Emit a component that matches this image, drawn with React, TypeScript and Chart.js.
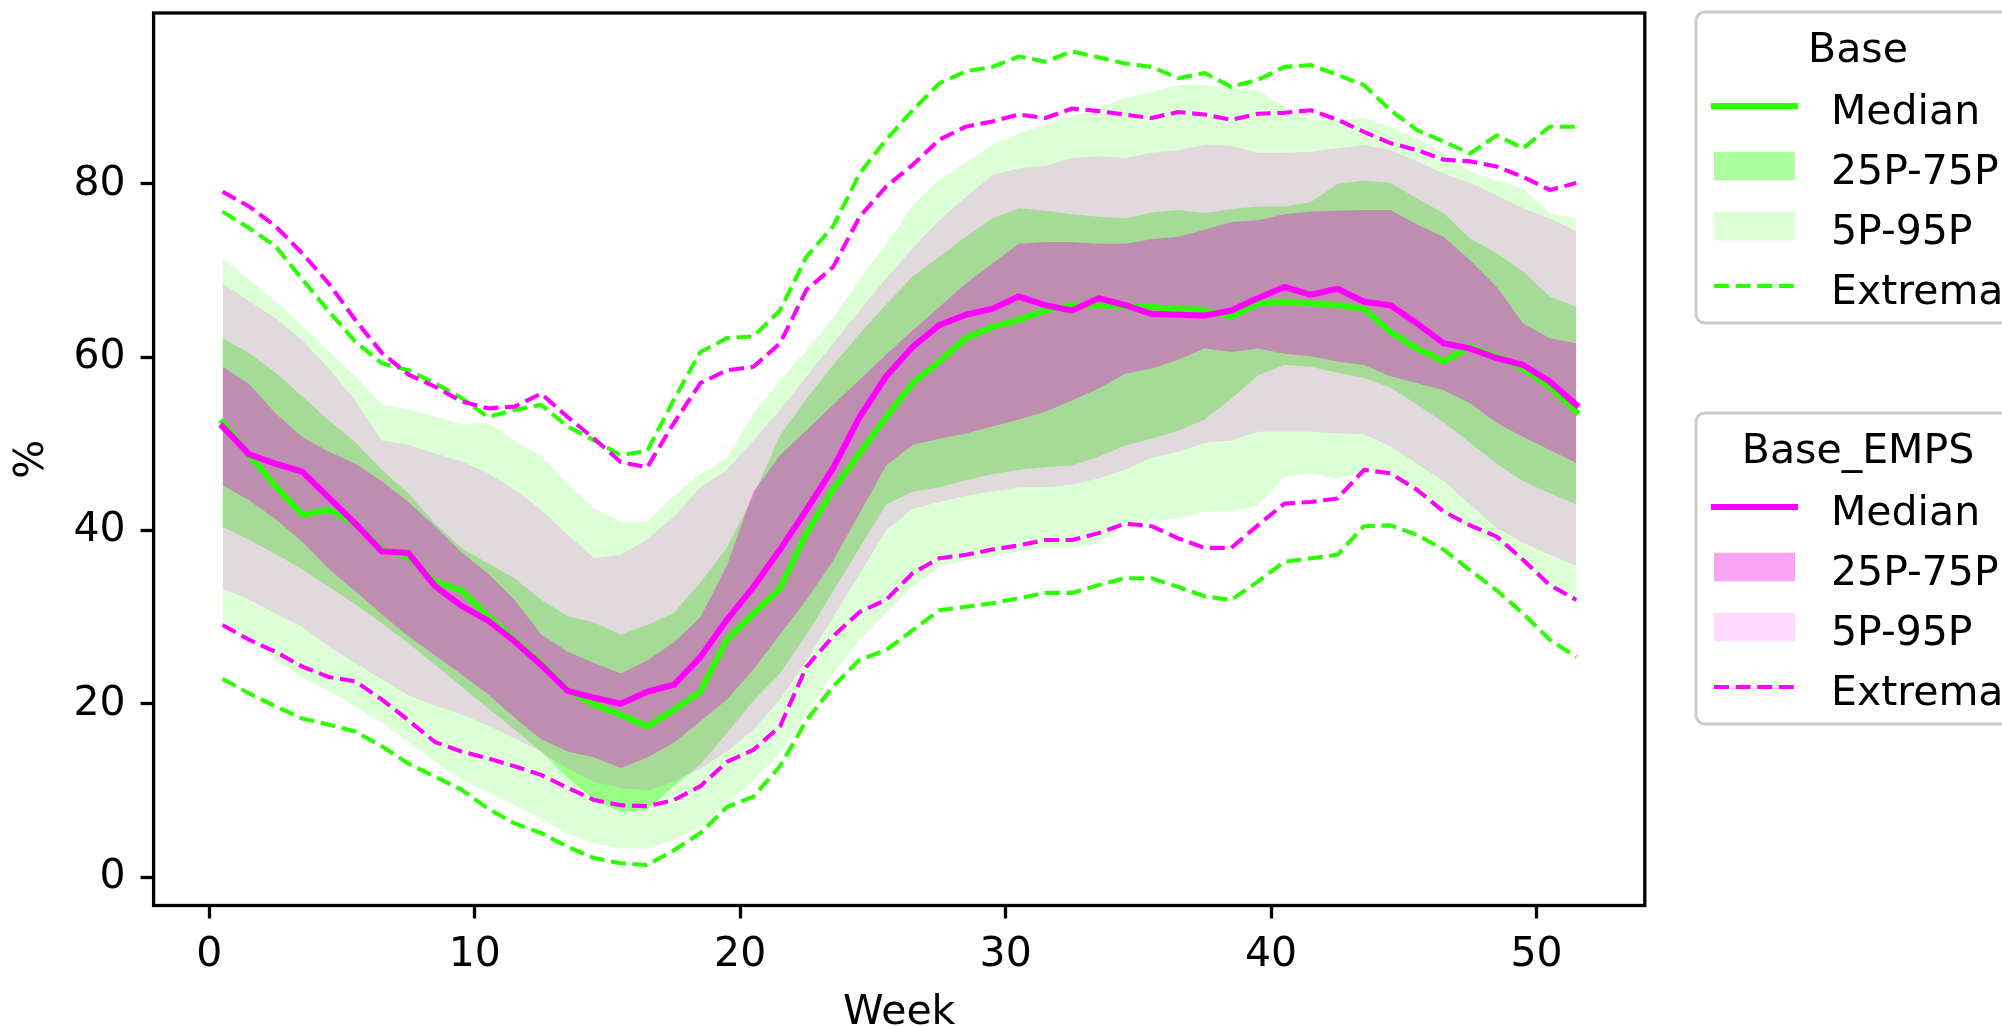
import React, { useEffect, useRef } from "react";
import { Chart, registerables } from "chart.js";

Chart.register(...registerables);

// ---------- data ----------
const weeks = [
  0.5, 1.5, 2.5, 3.5, 4.5, 5.5, 6.5, 7.5, 8.5, 9.5, 10.5, 11.5, 12.5, 13.5, 14.5, 15.5, 16.5, 17.5, 18.5, 19.5,
  20.5, 21.5, 22.5, 23.5, 24.5, 25.5, 26.5, 27.5, 28.5, 29.5, 30.5, 31.5, 32.5, 33.5, 34.5, 35.5, 36.5, 37.5, 38.5,
  39.5, 40.5, 41.5, 42.5, 43.5, 44.5, 45.5, 46.5, 47.5, 48.5, 49.5, 50.5, 51.5,
];
const xTicks = [0, 10, 20, 30, 40, 50];
const yTicks = [0, 20, 40, 60, 80];
const xTitle = "Week";
const yTitle = "%";
const legendTitles = ["Base", "Base_EMPS"];
const legendLabels = ["Median", "25P-75P", "5P-95P", "Extrema"];

// Base (green)
const baseMedian = [52.5, 48.7, 45.1, 41.8, 42.4, 40.8, 37.8, 37.0, 34.1, 33.1, 30.1, 27.4, 24.7, 21.6, 19.9, 18.7, 17.4, 19.3, 21.4, 27.4, 30.4, 33.3, 39.7, 44.7, 48.9, 53.1, 57.0, 59.5, 62.2, 63.5, 64.3, 65.4, 66.0, 66.0, 65.8, 65.8, 65.6, 65.4, 64.7, 66.2, 66.4, 66.2, 66.0, 65.6, 62.9, 61.0, 59.5, 61.2, 60.1, 58.7, 56.6, 53.7];
const baseP75 = [62.2, 60.5, 58.2, 55.5, 52.7, 50.2, 47.0, 44.3, 40.8, 38.0, 36.2, 34.5, 32.0, 30.1, 29.4, 28.0, 29.1, 30.5, 34.0, 38.0, 44.0, 51.0, 55.2, 59.1, 62.7, 66.1, 69.3, 71.6, 73.9, 76.0, 77.2, 76.9, 76.5, 76.2, 76.0, 76.7, 77.0, 76.6, 77.1, 77.4, 77.4, 77.9, 80.0, 80.4, 80.1, 78.3, 76.6, 73.7, 72.0, 69.9, 67.0, 65.8];
const baseP25 = [40.4, 38.9, 37.3, 35.5, 33.5, 31.5, 29.3, 27.0, 24.5, 22.0, 19.5, 17.0, 14.5, 11.5, 9.0, 7.5, 7.8, 10.5, 13.0, 16.6, 20.4, 23.5, 28.0, 33.0, 38.0, 43.0, 44.5, 45.0, 45.8, 46.5, 47.0, 47.3, 47.5, 48.5, 49.8, 50.6, 51.5, 52.8, 55.2, 57.9, 59.1, 58.9, 58.2, 57.6, 56.5, 54.5, 52.5, 50.1, 47.7, 45.7, 44.3, 43.0];
const baseP95 = [71.4, 68.9, 66.4, 63.6, 60.7, 57.8, 54.5, 54.0, 53.2, 52.3, 52.4, 50.4, 48.6, 45.4, 42.5, 41.0, 41.0, 44.0, 46.5, 48.4, 53.5, 57.3, 60.8, 64.5, 69.0, 73.0, 77.5, 80.5, 82.5, 84.5, 85.8, 86.8, 87.8, 88.8, 89.9, 90.6, 91.4, 91.4, 91.0, 90.8, 88.9, 87.4, 87.4, 87.6, 86.6, 85.3, 83.5, 81.4, 80.4, 79.5, 76.6, 76.0];
const baseP5 = [29.5, 27.8, 25.1, 23.1, 21.5, 19.7, 17.8, 15.6, 13.3, 11.3, 9.8, 8.3, 6.8, 5.0, 3.9, 3.3, 3.3, 4.3, 5.8, 8.5, 11.2, 14.3, 18.9, 23.5, 27.4, 30.5, 33.5, 35.8, 36.6, 37.0, 37.6, 38.0, 38.0, 38.5, 40.8, 41.2, 41.4, 42.2, 42.2, 42.9, 46.2, 46.6, 46.0, 46.8, 46.4, 44.3, 42.2, 40.1, 38.3, 36.2, 33.9, 32.0];
const baseMax = [76.8, 74.9, 72.8, 69.0, 65.3, 61.8, 59.3, 58.5, 57.0, 55.3, 53.1, 53.9, 54.5, 52.0, 50.4, 48.7, 49.2, 55.1, 60.6, 62.2, 62.4, 65.4, 71.6, 75.1, 81.2, 85.1, 88.5, 91.6, 93.0, 93.5, 94.7, 94.1, 95.3, 94.6, 93.9, 93.5, 92.2, 92.8, 91.2, 92.0, 93.5, 93.7, 92.6, 91.4, 88.5, 86.2, 84.9, 83.5, 85.6, 84.1, 86.6, 86.6];
const baseMin = [22.9, 21.2, 19.7, 18.3, 17.6, 16.8, 15.1, 13.1, 11.6, 10.1, 7.9, 6.2, 5.1, 3.5, 2.2, 1.6, 1.4, 3.1, 5.1, 8.1, 9.3, 12.8, 18.1, 22.0, 25.1, 26.2, 28.5, 30.8, 31.2, 31.6, 32.2, 32.8, 32.8, 33.7, 34.5, 34.5, 33.5, 32.4, 32.0, 34.1, 36.4, 36.8, 37.2, 40.5, 40.6, 39.5, 37.8, 35.4, 33.1, 30.4, 27.4, 25.4];

// Base_EMPS (magenta)
const empsMedian = [52.0, 48.8, 47.7, 46.8, 43.8, 40.8, 37.6, 37.4, 33.6, 31.3, 29.6, 27.2, 24.5, 21.5, 20.7, 20.0, 21.4, 22.2, 25.4, 29.7, 33.5, 37.8, 42.4, 47.2, 53.1, 57.8, 61.2, 63.7, 64.9, 65.6, 67.0, 66.0, 65.4, 66.8, 66.0, 65.0, 64.9, 64.8, 65.4, 66.8, 68.1, 67.2, 67.9, 66.4, 66.0, 63.9, 61.6, 61.0, 59.9, 59.1, 57.2, 54.5];
const empsP75 = [58.9, 56.9, 53.5, 50.8, 49.1, 47.7, 45.7, 43.3, 40.5, 37.5, 35.0, 32.0, 28.0, 26.0, 24.7, 23.5, 25.0, 27.1, 30.0, 36.0, 44.5, 48.7, 51.6, 54.5, 57.4, 60.3, 63.1, 65.8, 68.5, 70.8, 73.1, 73.3, 73.3, 73.1, 73.1, 73.6, 73.9, 74.7, 75.6, 75.8, 76.5, 76.8, 76.9, 77.0, 77.0, 75.3, 73.9, 71.2, 68.1, 63.9, 62.2, 61.6];
const empsP25 = [45.2, 43.5, 41.3, 38.7, 35.6, 33.0, 30.3, 27.8, 25.6, 23.4, 21.1, 18.4, 15.9, 14.5, 13.8, 12.6, 13.8, 15.5, 18.0, 20.5, 24.0, 28.0, 32.0, 36.5, 42.0, 47.5, 49.9, 50.6, 51.2, 52.0, 52.8, 53.7, 55.0, 56.4, 58.1, 58.7, 59.7, 61.0, 60.6, 61.0, 60.4, 60.1, 59.5, 59.1, 57.8, 57.0, 56.2, 54.7, 52.4, 50.8, 49.3, 47.8];
const empsP95 = [68.5, 66.5, 64.5, 62.0, 58.7, 55.0, 50.4, 49.9, 48.9, 48.0, 46.6, 44.7, 42.4, 39.5, 36.8, 37.2, 39.0, 41.6, 45.0, 47.0, 50.4, 53.9, 57.8, 61.6, 65.4, 69.1, 72.6, 75.8, 78.5, 81.0, 81.8, 82.1, 83.0, 83.2, 83.0, 83.6, 83.9, 84.5, 84.4, 83.6, 83.6, 83.7, 84.1, 84.5, 83.9, 82.6, 81.2, 80.1, 78.7, 77.2, 76.0, 74.5];
const empsP5 = [33.3, 32.0, 30.4, 28.9, 26.6, 24.7, 22.8, 21.0, 19.8, 18.8, 17.5, 16.0, 14.5, 12.5, 11.0, 10.3, 10.0, 11.0, 12.5, 14.5, 17.0, 20.5, 25.0, 30.0, 35.0, 40.0, 42.5, 43.3, 44.0, 44.5, 45.0, 45.0, 45.3, 46.0, 47.0, 48.4, 49.1, 50.1, 50.4, 51.4, 51.4, 51.4, 51.2, 51.1, 49.7, 47.7, 45.7, 43.0, 40.3, 38.6, 37.2, 35.9];
const empsMax = [79.1, 77.4, 75.1, 72.0, 68.5, 64.3, 60.5, 58.0, 56.6, 54.9, 54.1, 54.3, 55.8, 53.1, 50.6, 47.9, 47.3, 52.4, 57.0, 58.5, 58.9, 61.6, 67.8, 70.4, 76.2, 79.7, 82.2, 85.1, 86.6, 87.2, 88.0, 87.6, 88.7, 88.4, 88.0, 87.6, 88.3, 88.0, 87.4, 88.1, 88.2, 88.5, 87.4, 86.0, 84.7, 83.9, 82.8, 82.6, 82.0, 80.8, 79.3, 80.1];
const empsMin = [29.1, 27.4, 26.0, 24.3, 23.1, 22.6, 20.5, 18.1, 15.6, 14.5, 13.7, 12.8, 11.8, 10.3, 8.9, 8.3, 8.2, 8.9, 10.5, 13.3, 14.7, 17.4, 24.3, 27.8, 30.6, 32.0, 35.1, 36.8, 37.2, 37.8, 38.3, 38.9, 38.9, 39.7, 40.8, 40.5, 39.1, 38.0, 38.0, 40.6, 43.1, 43.3, 43.7, 47.0, 46.6, 44.7, 42.2, 40.6, 39.3, 36.6, 33.7, 32.0];

// ---------- styles ----------
const FONT = "DejaVu Sans";
const FS = 41;
const GREEN = "#2bff00";
const MAGENTA = "#ff00ff";
const G_OUTER = "rgba(40,255,0,0.16)";
const G_INNER = "rgba(40,255,0,0.38)";
const M_OUTER = "rgba(255,0,255,0.145)";
const M_INNER = "rgba(235,0,220,0.35)";
const DASH = [15, 6.6];

const pts = (vals: number[]) => vals.map((v, i) => ({ x: weeks[i], y: v }));

const band = (label: string, vals: number[], color: string | null, target: number | false, order: number) => ({
  label,
  data: pts(vals),
  borderColor: "rgba(0,0,0,0)",
  borderWidth: 0,
  pointRadius: 0,
  backgroundColor: color || "rgba(0,0,0,0)",
  fill: target,
  order,
});

const line = (label: string, vals: number[], color: string, width: number, dashed: boolean, order: number) => ({
  label,
  data: pts(vals),
  borderColor: color,
  borderWidth: width,
  borderDash: dashed ? DASH : [],
  borderJoinStyle: "round" as const,
  borderCapStyle: dashed ? ("butt" as const) : ("square" as const),
  pointRadius: 0,
  fill: false,
  order,
});

function drawLegend(ctx: CanvasRenderingContext2D, top: number, title: string, color: string, inner: string, outer: string) {
  const left = 1696;
  const w = 340;
  const h = 311;
  const r = 9;
  ctx.save();
  ctx.beginPath();
  ctx.moveTo(left + r, top);
  ctx.lineTo(left + w - r, top);
  ctx.arcTo(left + w, top, left + w, top + r, r);
  ctx.lineTo(left + w, top + h - r);
  ctx.arcTo(left + w, top + h, left + w - r, top + h, r);
  ctx.lineTo(left + r, top + h);
  ctx.arcTo(left, top + h, left, top + h - r, r);
  ctx.lineTo(left, top + r);
  ctx.arcTo(left, top, left + r, top, r);
  ctx.closePath();
  ctx.fillStyle = "rgba(255,255,255,0.8)";
  ctx.fill();
  ctx.strokeStyle = "#cccccc";
  ctx.lineWidth = 3;
  ctx.stroke();

  ctx.fillStyle = "#000";
  ctx.font = `${FS}px "${FONT}"`;
  ctx.textBaseline = "alphabetic";
  ctx.textAlign = "center";
  ctx.fillText(title, 1858, top + 49.5);

  const rows = [94, 154, 214, 274];
  const hx0 = 1714;
  const hx1 = 1795;
  ctx.strokeStyle = color;
  ctx.lineWidth = 6.1;
  ctx.lineCap = "square";
  ctx.beginPath();
  ctx.moveTo(hx0, top + rows[0]);
  ctx.lineTo(hx1, top + rows[0]);
  ctx.stroke();
  ctx.fillStyle = inner;
  ctx.fillRect(hx0, top + rows[1] - 14.3, hx1 - hx0, 28.6);
  ctx.fillStyle = outer;
  ctx.fillRect(hx0, top + rows[2] - 14.3, hx1 - hx0, 28.6);
  ctx.lineWidth = 4.1;
  ctx.lineCap = "butt";
  ctx.setLineDash(DASH);
  ctx.beginPath();
  ctx.moveTo(hx0, top + rows[3]);
  ctx.lineTo(hx1, top + rows[3]);
  ctx.stroke();
  ctx.setLineDash([]);

  ctx.fillStyle = "#000";
  ctx.textAlign = "left";
  legendLabels.forEach((lab, i) => {
    ctx.fillText(lab, 1831, top + rows[i] + 17.5);
  });
  ctx.restore();
}

const decorPlugin = {
  id: "decor",
  afterDraw(chart: any) {
    const ctx: CanvasRenderingContext2D = chart.ctx;
    const a = chart.chartArea;
    ctx.save();
    ctx.strokeStyle = "#000";
    ctx.lineWidth = 3.3;
    ctx.strokeRect(a.left, a.top, a.right - a.left, a.bottom - a.top);
    ctx.fillStyle = "#000";
    ctx.font = `${FS}px "${FONT}"`;
    ctx.textAlign = "center";
    ctx.textBaseline = "alphabetic";
    ctx.fillText(xTitle, (a.left + a.right) / 2, 1024);
    ctx.translate(32, (a.top + a.bottom) / 2);
    ctx.rotate(-Math.PI / 2);
    ctx.textBaseline = "middle";
    ctx.fillText(yTitle, 0, 0);
    ctx.restore();
    drawLegend(ctx, 12, legendTitles[0], GREEN, G_INNER, G_OUTER);
    drawLegend(ctx, 413, legendTitles[1], MAGENTA, M_INNER, M_OUTER);
  },
};

export default function App() {
  const ref = useRef<HTMLCanvasElement | null>(null);
  useEffect(() => {
    if (!ref.current) return;
    const tickFont = { family: FONT, size: FS };
    const chart = new Chart(ref.current, {
      type: "line",
      data: {
        datasets: [
          band("Base 95P", baseP95, G_OUTER, 1, 10) as any,
          band("Base 5P", baseP5, null, false, 10) as any,
          band("Base 75P", baseP75, G_INNER, 3, 9) as any,
          band("Base 25P", baseP25, null, false, 9) as any,
          band("EMPS 95P", empsP95, M_OUTER, 5, 8) as any,
          band("EMPS 5P", empsP5, null, false, 8) as any,
          band("EMPS 75P", empsP75, M_INNER, 7, 7) as any,
          band("EMPS 25P", empsP25, null, false, 7) as any,
          line("Base max", baseMax, GREEN, 4.1, true, 4) as any,
          line("Base min", baseMin, GREEN, 4.1, true, 4) as any,
          line("EMPS max", empsMax, MAGENTA, 4.1, true, 3) as any,
          line("EMPS min", empsMin, MAGENTA, 4.1, true, 3) as any,
          line("Base median", baseMedian, GREEN, 6.1, false, 2) as any,
          line("EMPS median", empsMedian, MAGENTA, 6.1, false, 1) as any,
        ],
      },
      options: {
        animation: false,
        responsive: false,
        maintainAspectRatio: false,
        devicePixelRatio: 1,
        events: [],
        layout: { padding: { left: 0, top: 13, right: 357.2, bottom: 0 } },
        plugins: {
          legend: { display: false },
          tooltip: { enabled: false },
          filler: { drawTime: "beforeDatasetsDraw", propagate: false },
        } as any,
        scales: {
          x: {
            type: "linear",
            min: -2.1,
            max: 54.08,
            afterBuildTicks: (s: any) => {
              s.ticks = xTicks.map((v) => ({ value: v }));
            },
            afterFit: (s: any) => {
              s.height = 121.5;
              s.paddingLeft = 0;
              s.paddingRight = 0;
            },
            ticks: { font: tickFont, color: "#000", padding: 12, autoSkip: false, maxRotation: 0 },
            grid: { drawOnChartArea: false, drawTicks: true, tickLength: 13, tickWidth: 3.3, tickColor: "#000" },
            border: { display: false },
          },
          y: {
            type: "linear",
            min: -3.27,
            max: 99.72,
            afterBuildTicks: (s: any) => {
              s.ticks = yTicks.map((v) => ({ value: v }));
            },
            afterFit: (s: any) => {
              s.width = 153.6;
              s.paddingTop = 0;
              s.paddingBottom = 0;
            },
            ticks: { font: tickFont, color: "#000", padding: 15, autoSkip: false },
            grid: { drawOnChartArea: false, drawTicks: true, tickLength: 13, tickWidth: 3.3, tickColor: "#000" },
            border: { display: false },
          },
        },
      } as any,
      plugins: [decorPlugin],
    });
    return () => chart.destroy();
  }, []);

  return (
    <div style={{ position: "fixed", left: 0, top: 0, width: 2002, height: 1027, background: "#fff" }}>
      <canvas ref={ref} width={2002} height={1027} style={{ width: 2002, height: 1027, display: "block" }} />
    </div>
  );
}
